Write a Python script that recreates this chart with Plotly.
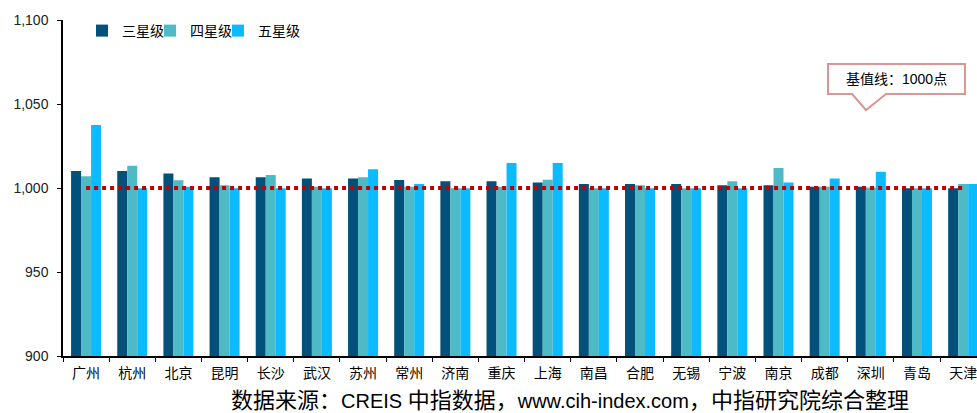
import plotly.graph_objects as go

cities = ["广州", "杭州", "北京", "昆明", "长沙", "武汉", "苏州", "常州", "济南", "重庆",
          "上海", "南昌", "合肥", "无锡", "宁波", "南京", "成都", "深圳", "青岛", "天津"]
three_star = [1010.1, 1010.1, 1008.7, 1006.4, 1006.4, 1005.6, 1005.6, 1004.7, 1004.0, 1004.0,
              1003.3, 1002.4, 1002.4, 1002.4, 1001.6, 1001.6, 1000.8, 1000.8, 999.9, 999.9]
four_star = [1007.0, 1013.3, 1004.6, 1001.6, 1007.7, 1000.8, 1006.4, 1000.8, 999.9, 1000.8,
             1004.9, 999.9, 1001.6, 999.9, 1004.0, 1011.9, 1000.8, 1000.3, 999.9, 1002.4]
five_star = [1037.5, 999.9, 1000.8, 999.9, 999.9, 999.9, 1011.1, 1002.4, 999.9, 1014.9,
             1014.9, 999.9, 999.9, 999.9, 999.9, 1003.3, 1005.6, 1009.7, 999.9, 1002.4]
series_names = ["三星级", "四星级", "五星级"]
baseline = 1000
y_ticks = [900, 950, 1000, 1050, 1100]
callout_text = "基值线：1000点"
source_parts = [("数据来源：", True), ("CREIS ", False), ("中指数据，", True),
                ("www.cih-index.com", False), ("，中指研究院综合整理", True)]

colors = ["#03507A", "#4EBAC6", "#0CBAFE"]
FONT = "Liberation Sans, Arial, Noto Sans CJK SC"

# plot area geometry in pixels
W, H = 977, 413
L, R, T, B = 63, 0, 20, 57
pw, ph = W - L - R, H - T - B


def px(x):
    return (x - L) / pw


def py(y):
    return (H - B - y) / ph


legend_keys = ["legend", "legend2", "legend3"]
legend_text_x = [124, 192, 260]

fig = go.Figure()
for name, vals, c, lk in zip(series_names, [three_star, four_star, five_star], colors, legend_keys):
    fig.add_trace(go.Bar(x=cities, y=vals, name=name, legend=lk,
                         marker=dict(color=c, line=dict(width=0))))

fig.add_trace(go.Scatter(x=cities, y=[baseline] * len(cities), mode="lines",
                         line=dict(color="#C00000", width=4, dash="4px,4px"),
                         showlegend=False, hoverinfo="skip"))

# callout box with notch
x0, x1, yt, yb = 828, 965, 64, 94
nl, nr, tipx, tipy = 852, 886, 866, 110
path = (f"M {px(x0)} {py(yt)} L {px(x1)} {py(yt)} L {px(x1)} {py(yb)} L {px(nr)} {py(yb)} "
        f"L {px(tipx)} {py(tipy)} L {px(nl)} {py(yb)} L {px(x0)} {py(yb)} Z")
fig.add_shape(type="path", path=path, xref="paper", yref="paper",
              line=dict(color="#D99694", width=2), fillcolor="white", layer="above")
fig.add_annotation(x=px((x0 + x1) / 2), y=py((yt + yb) / 2), xref="paper", yref="paper",
                   xanchor="center", yanchor="middle",
                   text=callout_text, showarrow=False,
                   font=dict(family=FONT, size=14, color="#000000"))

source_html = "".join(
    f"<span style='font-size:{22 if cjk else 20}px'>{t}</span>" for t, cjk in source_parts)
fig.add_annotation(x=px(570), y=py(400), xref="paper", yref="paper", text=source_html,
                   xanchor="center", yanchor="middle",
                   showarrow=False, font=dict(family=FONT, size=20, color="#000000"))

legend_common = dict(orientation="h", xanchor="left", yanchor="middle", font=dict(size=14),
                     itemwidth=30, bgcolor="rgba(0,0,0,0)", borderwidth=0)

fig.update_layout(
    width=W, height=H,
    margin=dict(l=L, r=R, t=T, b=B),
    paper_bgcolor="white", plot_bgcolor="white",
    barmode="group", bargap=0.35, bargroupgap=0,
    font=dict(family=FONT, size=14, color="#000000"),
    xaxis=dict(range=[-0.5, 19.3], showline=True, linecolor="#000000", linewidth=1.5,
               ticks="outside", tickson="boundaries", ticklen=4, tickcolor="#000000",
               showgrid=False, tickfont=dict(size=14), fixedrange=True,
               ticklabelstandoff=3),
    yaxis=dict(range=[900, 1100], tickvals=y_ticks, tickformat=",", showline=True,
               linecolor="#000000", linewidth=1.5, ticks="outside", ticklen=4,
               tickcolor="#000000", showgrid=False, zeroline=False,
               tickfont=dict(size=14, color="#222222"), ticklabelstandoff=6),
)
for lk, tx in zip(legend_keys, legend_text_x):
    fig.update_layout({lk: dict(legend_common, x=px(tx - 42), y=py(31))})

fig.write_html("out.html", config={"displayModeBar": False},
               post_script="document.body.style.margin='0px';")
